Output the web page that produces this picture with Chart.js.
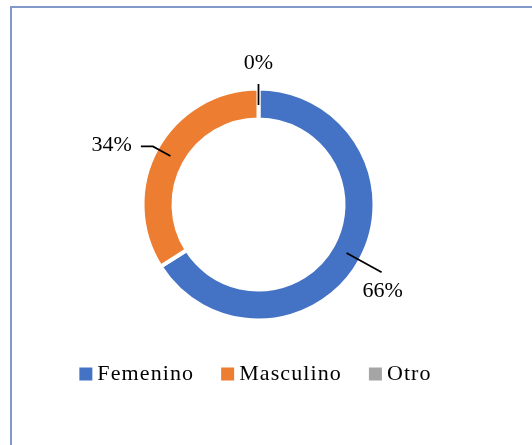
<!DOCTYPE html>
<html>
<head>
<meta charset="utf-8">
<script src="https://cdn.jsdelivr.net/npm/chart.js@4/dist/chart.umd.min.js"></script>
<style>
  body { margin: 0; background: #fff; }
  #frame { position: absolute; left: 10px; top: 6px; width: 600px; height: 500px; border: 2px solid #8099c8; box-sizing: border-box; }
  #wrap { position: absolute; left: 0; top: 0; width: 532px; height: 445px; }
</style>
</head>
<body>
<div id="frame"></div>
<div id="wrap"><canvas id="canvas"></canvas></div>
<script>
var categories = ["Femenino", "Masculino", "Otro"];
var values = [66, 34, 0];
var percentLabels = ["66%", "34%", "0%"];
var colors = ["#4472C4", "#ED7D31", "#A5A5A5"];

var serif = "'Liberation Serif', 'DejaVu Serif', serif";

// leader line + label placement, per slice
var leaders = [
    { len: 40, elbow: 0, tx: 1, ty: 19, align: "center" },
    { len: 20, elbow: -12, tx: -9, ty: -1, align: "right" },
    { len: 21, elbow: 0, tx: 0, ty: -21, align: "center", start: -1 }
];

// legend text in the original is a bit spaced out
var spacingPlugin = {
    id: "spacing",
    beforeLayout: function(chart) { chart.ctx.letterSpacing = "1.1px"; },
    beforeDraw: function(chart) { chart.ctx.letterSpacing = "1.1px"; }
};

var labelPlugin = {
    id: "leaderLabels",
    afterDatasetsDraw: function(chart) {
        var ctx = chart.ctx;
        var arcs = chart.getDatasetMeta(0).data;
        ctx.save();
        ctx.letterSpacing = "0px";
        ctx.strokeStyle = "#000";
        ctx.lineWidth = 1.75;
        ctx.fillStyle = "#000";
        ctx.font = "22px " + serif;
        ctx.textBaseline = "middle";
        arcs.forEach(function(arc, i) {
            var p = arc.getProps(["x", "y", "startAngle", "endAngle", "innerRadius", "outerRadius"], true);
            var a = (p.startAngle + p.endAngle) / 2;
            var rMid = (p.innerRadius + p.outerRadius) / 2 + (leaders[i].start || 0);
            var x0 = p.x + Math.cos(a) * rMid, y0 = p.y + Math.sin(a) * rMid;
            var r1 = rMid + leaders[i].len;
            var x1 = p.x + Math.cos(a) * r1, y1 = p.y + Math.sin(a) * r1;
            var x2 = x1 + leaders[i].elbow;
            ctx.beginPath();
            ctx.moveTo(x0, y0);
            ctx.lineTo(x1, y1);
            if (leaders[i].elbow) ctx.lineTo(x2, y1);
            ctx.stroke();
            ctx.textAlign = leaders[i].align;
            ctx.fillText(percentLabels[i], x2 + leaders[i].tx, y1 + leaders[i].ty);
        });
        ctx.restore();
    }
};

var chart = new Chart(document.getElementById("canvas"), {
    type: "doughnut",
    data: {
        labels: categories,
        datasets: [{
            data: values,
            backgroundColor: colors,
            borderColor: "#fff",
            borderWidth: 4,
            hoverOffset: 0
        }]
    },
    options: {
        responsive: true,
        maintainAspectRatio: false,
        animation: false,
        radius: 116,
        cutout: (85 / 116 * 100) + "%",
        layout: { padding: { left: 20, right: 35, top: 79, bottom: 50 } },
        plugins: {
            tooltip: { enabled: false },
            legend: {
                position: "bottom",
                labels: {
                    usePointStyle: true,
                    pointStyle: "rect",
                    boxWidth: 1,
                    boxHeight: 13,
                    padding: 33,
                    color: "#000",
                    font: { family: serif, size: 22 },
                    generateLabels: function(chart) {
                        var items = Chart.overrides.doughnut.plugins.legend.labels.generateLabels(chart);
                        items.forEach(function(it) { it.lineWidth = 0; it.strokeStyle = it.fillStyle; });
                        return items;
                    }
                }
            }
        }
    },
    plugins: [spacingPlugin, labelPlugin]
});
</script>
</body>
</html>
